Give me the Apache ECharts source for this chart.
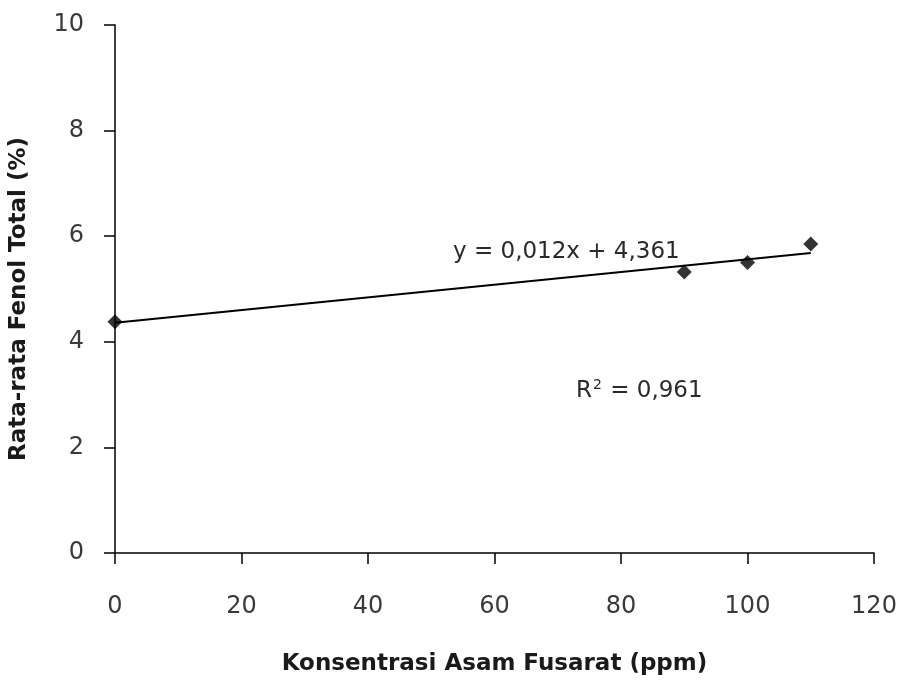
<!DOCTYPE html>
<html><head><meta charset="utf-8">
<script src="https://cdn.jsdelivr.net/npm/echarts@6/dist/echarts.min.js"></script>
<style>html,body{margin:0;padding:0;background:#fff}#c{width:900px;height:680px}</style>
</head><body><div id="c"></div>
<script>
var concentrations = [0, 90, 100, 110];
var phenolValues = [4.38, 5.32, 5.50, 5.85];
var trendX = [0, 110];
var slope = 0.012, intercept = 4.361;
var equationText = 'y = 0,012x + 4,361';
var r2Text = '0,961';
var xTitle = 'Konsentrasi Asam Fusarat (ppm)';
var yTitle = 'Rata-rata Fenol Total (%)';

var points = concentrations.map(function(x, i){ return [x, phenolValues[i]]; });
var trend = trendX.map(function(x){ return [x, +(intercept + slope * x).toFixed(4)]; });

var chart = echarts.init(document.getElementById('c'));
var font = '"DejaVu Sans", sans-serif';
chart.setOption({
  animation: false,
  backgroundColor: '#fff',
  grid: { left: 115, right: 26, top: 25, bottom: 127, containLabel: false, outerBoundsMode: 'none' },
  xAxis: {
    type: 'value', min: 0, max: 120, interval: 20,
    name: xTitle, nameLocation: 'middle', nameGap: 100,
    nameTextStyle: { fontFamily: font, fontWeight: 'bold', fontSize: 23, color: '#1a1a1a' },
    axisLine: { show: true, onZero: false, lineStyle: { color: '#000', width: 1.5 } },
    axisTick: { show: true, length: 11, lineStyle: { color: '#000', width: 1.5 } },
    axisLabel: { fontFamily: font, fontSize: 24, color: '#3a3a3a', margin: 42 },
    splitLine: { show: false }
  },
  yAxis: {
    type: 'value', min: 0, max: 10, interval: 2,
    name: yTitle, nameLocation: 'middle', nameGap: 84, nameRotate: 90,
    nameTextStyle: { fontFamily: font, fontWeight: 'bold', fontSize: 23, color: '#1a1a1a', padding: [0, 20, 0, 0] },
    axisLine: { show: true, lineStyle: { color: '#000', width: 1.5 } },
    axisTick: { show: true, length: 11, lineStyle: { color: '#000', width: 1.5 } },
    axisLabel: { fontFamily: font, fontSize: 24, color: '#3a3a3a', margin: 31 },
    splitLine: { show: false }
  },
  series: [
    {
      type: 'line', data: trend, symbol: 'none', silent: true,
      lineStyle: { color: '#000', width: 2 }, z: 2
    },
    {
      type: 'scatter', data: points, symbol: 'diamond', symbolSize: 15,
      itemStyle: { color: '#000' }, z: 3
    }
  ],
  graphic: [
    { type: 'text', x: 453, y: 252,
      style: { text: equationText, fontFamily: font, fontSize: 23, fill: '#2a2a2a', verticalAlign: 'middle', align: 'left' } },
    { type: 'text', x: 576, y: 391,
      style: { text: 'R{sup|2} = ' + r2Text, fontFamily: font, fontSize: 23, fill: '#2a2a2a', verticalAlign: 'middle', align: 'left',
        rich: { sup: { fontSize: 14, verticalAlign: 'top', padding: [0,1,12,1], fontFamily: font, fill: '#2a2a2a' } } } }
  ]
});
</script></body></html>
